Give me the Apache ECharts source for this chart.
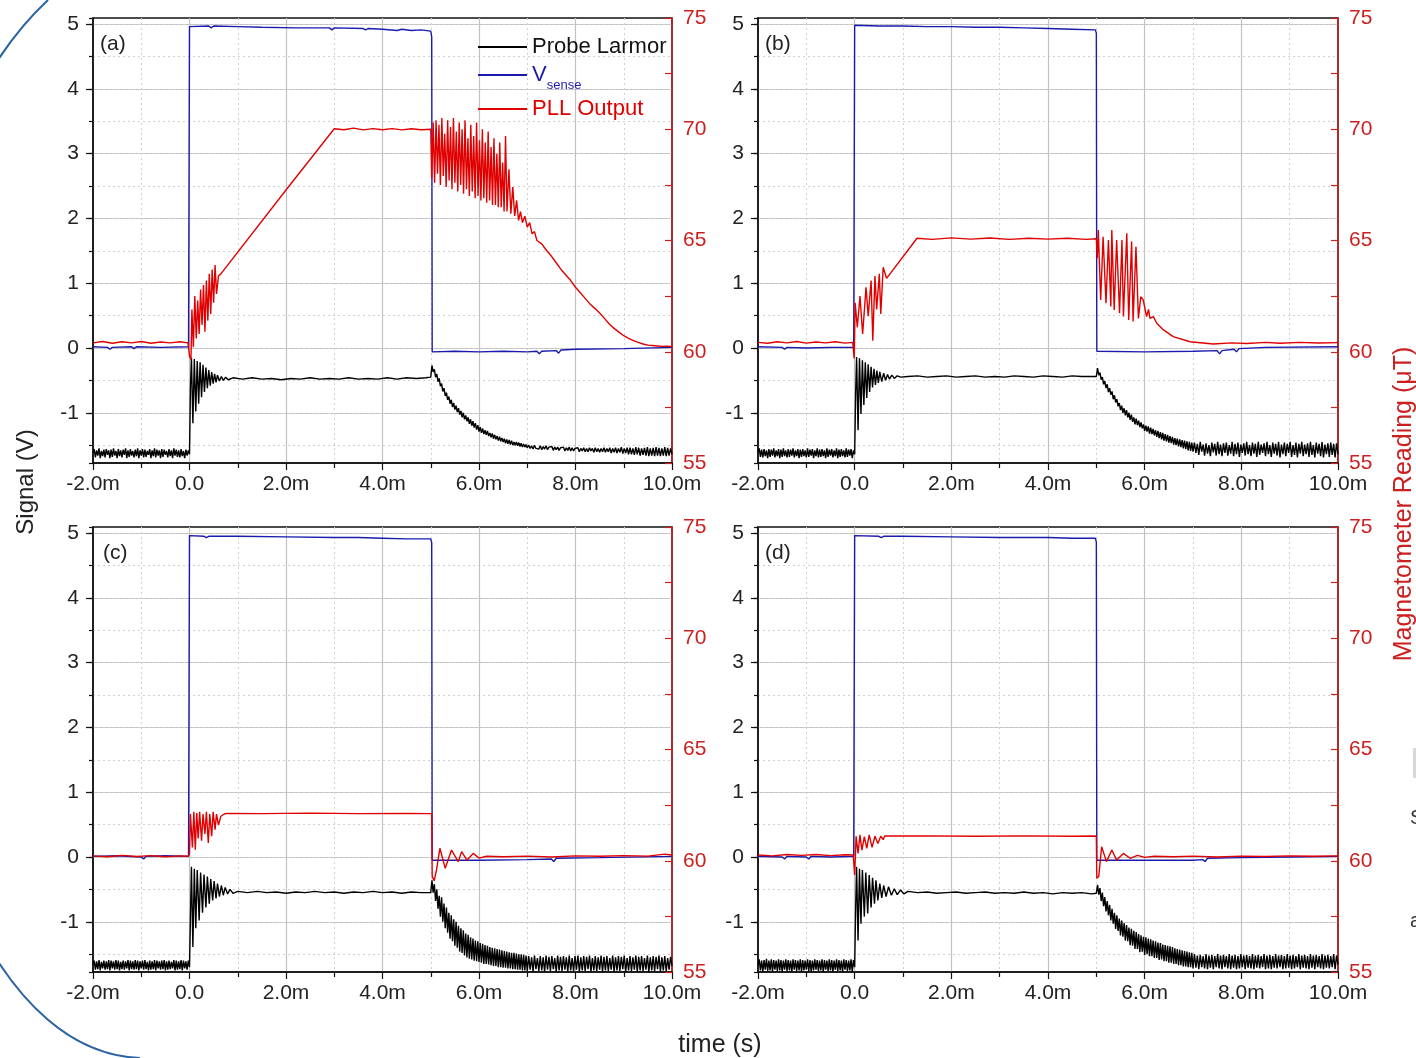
<!DOCTYPE html>
<html><head><meta charset="utf-8">
<script src="https://cdn.jsdelivr.net/npm/echarts/dist/echarts.min.js"></script>
<style>html,body{margin:0;padding:0;background:#fff}#c{width:1416px;height:1058px}</style>
</head><body><div id="c"></div>
<script>
// ---------------- DATA (time in ms) ----------------
const panelLabels = ['(a)', '(b)', '(c)', '(d)'];
const seriesNames = ['Probe Larmor', 'Vsense', 'PLL Output'];
// uniformly sampled scope segments: start time, sample step, read values
function sampled(t0, dt, vals) { return vals.map((v, k) => [+(t0 + k * dt).toFixed(4), v]); }

// ----- Panel (a) -----
const aPre = [-1.62,-1.56,-1.69,-1.58,-1.66,-1.55,-1.70,-1.59,-1.67,-1.57,-1.69,-1.56,-1.65,-1.58,-1.70,-1.57,-1.68,-1.55,-1.66,-1.59,-1.70,-1.56,-1.67,-1.58,-1.69,-1.57,-1.65,-1.55,-1.70,-1.58,-1.68,-1.56,-1.66,-1.59,-1.69,-1.57,-1.67,-1.55,-1.70,-1.58,-1.66,-1.56,-1.69,-1.57,-1.68,-1.59,-1.65,-1.56,-1.70,-1.58,-1.67,-1.55,-1.69,-1.57,-1.66,-1.58,-1.70,-1.56,-1.68,-1.57,-1.65,-1.59,-1.69,-1.56,-1.67,-1.58,-1.70,-1.55,-1.66,-1.57,-1.68,-1.58,-1.69,-1.56,-1.67,-1.59,-1.70,-1.57,-1.66,-1.58,-1.64];
const aRing = [[0.02,-0.60],[0.04,-0.15],[0.07,-1.16],[0.10,-0.17],[0.13,-0.98],[0.16,-0.20],[0.19,-0.86],[0.22,-0.22],[0.25,-0.76],[0.28,-0.26],[0.31,-0.68],[0.34,-0.30],[0.37,-0.62],[0.40,-0.34],[0.43,-0.58],[0.46,-0.37],[0.49,-0.55],[0.52,-0.40],[0.55,-0.53],[0.58,-0.42],[0.62,-0.51],[0.66,-0.44],[0.70,-0.50],[0.75,-0.45],[0.80,-0.49],
[0.90,-0.46],[1.10,-0.48],[1.30,-0.46],[1.50,-0.48],[1.70,-0.47],[1.90,-0.49],[2.10,-0.47],[2.30,-0.48],[2.50,-0.46],[2.70,-0.48],[2.90,-0.47],[3.10,-0.48],[3.30,-0.46],[3.50,-0.48],[3.70,-0.47],[3.90,-0.48],[4.10,-0.46],[4.30,-0.48],[4.50,-0.46],[4.70,-0.47],[4.90,-0.46],[5.00,-0.45]];
const aDecay = [-0.27,-0.37,-0.33,-0.45,-0.40,-0.52,-0.47,-0.59,-0.55,-0.67,-0.62,-0.74,-0.69,-0.80,-0.75,-0.86,-0.80,-0.91,-0.85,-0.95,-0.89,-0.99,-0.93,-1.03,-0.97,-1.07,-1.00,-1.10,-1.04,-1.13,-1.07,-1.17,-1.10,-1.20,-1.13,-1.23,-1.16,-1.26,-1.19,-1.29,-1.22,-1.31,-1.24,-1.33,-1.27,-1.34,-1.28,-1.36,-1.31,-1.38,-1.32,-1.40,-1.34,-1.41,-1.36,-1.43,-1.37,-1.44,-1.39,-1.45,-1.40,-1.47,-1.41,-1.48,-1.42,-1.49,-1.43,-1.50,-1.45,-1.50,-1.45,-1.51,-1.46,-1.52,-1.47,-1.53,-1.48,-1.53,-1.49,-1.54];
const aTail = [-1.50,-1.55,-1.51,-1.56,-1.50,-1.55,-1.52,-1.56,-1.51,-1.57,-1.52,-1.56,-1.51,-1.57,-1.53,-1.56,-1.52,-1.58,-1.53,-1.57,-1.53,-1.58,-1.54,-1.57,-1.53,-1.59,-1.54,-1.58,-1.53,-1.59,-1.54,-1.59,-1.55,-1.58,-1.54,-1.60,-1.55,-1.59,-1.54,-1.60,-1.55,-1.60,-1.54,-1.59,-1.55,-1.61,-1.54,-1.60,-1.55,-1.61,-1.55,-1.60,-1.54,-1.61,-1.55,-1.60,-1.54,-1.62,-1.55,-1.61,-1.54,-1.62,-1.55,-1.61,-1.53,-1.63,-1.55,-1.62,-1.54,-1.64,-1.54,-1.64,-1.55,-1.65,-1.53,-1.64,-1.54,-1.66,-1.55,-1.65,-1.54,-1.66,-1.53,-1.67,-1.55,-1.66,-1.54,-1.67,-1.53,-1.66,-1.54,-1.67,-1.55,-1.66,-1.53,-1.67,-1.54,-1.66,-1.55,-1.64];
const aBlue = [[-2.00,0.02],[-1.70,0.01],[-1.65,-0.02],[-1.60,0.01],[-1.20,0.02],[-1.15,-0.01],[-1.10,0.02],[-0.60,0.01],[-0.02,0.02],[0.00,4.96],[0.40,4.97],[0.45,4.94],[0.50,4.97],[1.00,4.96],[1.50,4.95],[2.20,4.94],[2.90,4.94],[2.95,4.91],[3.00,4.94],[3.60,4.93],[3.65,4.91],[3.70,4.93],[4.00,4.92],[4.30,4.90],[4.40,4.92],[4.60,4.90],[4.80,4.91],[5.00,4.89],[5.02,4.80],[5.03,-0.06],[5.50,-0.05],[6.00,-0.06],[6.50,-0.05],[7.00,-0.06],[7.20,-0.05],[7.25,-0.09],[7.30,-0.05],[7.60,-0.04],[7.65,-0.08],[7.70,-0.03],[8.00,-0.02],[9.00,-0.01],[10.00,0.01]];
const aRed = [
[-2.00,60.40],[-1.80,60.46],[-1.60,60.38],[-1.40,60.45],[-1.20,60.40],[-1.00,60.46],[-0.80,60.38],[-0.60,60.44],[-0.40,60.40],[-0.20,60.45],[-0.03,60.40],
[0.00,59.80],[0.03,59.65],[0.05,61.9],[0.08,60.2],[0.11,62.5],[0.14,60.6],[0.17,62.3],[0.20,60.8],[0.23,62.8],[0.26,61.2],[0.29,63.0],[0.32,60.9],[0.35,63.2],[0.38,61.4],[0.41,63.5],[0.44,61.7],[0.47,63.7],[0.50,62.2],[0.53,63.9],[0.56,62.6],[0.60,63.4],[0.65,63.5],
[2.00,67.27],[3.00,70.02],
[3.20,69.98],[3.40,70.05],[3.60,69.97],[3.80,70.03],[4.00,69.98],[4.20,70.03],[4.40,69.97],[4.60,70.02],[4.80,69.98],[5.00,70.00],
[5.02,67.8],[5.05,70.3],[5.08,67.6],[5.11,70.4],[5.14,68.0],[5.17,70.2],[5.20,67.5],[5.23,70.5],[5.26,67.9],[5.29,69.8],[5.32,67.4],[5.35,70.4],[5.38,67.7],[5.41,70.1],[5.44,67.3],[5.47,70.5],[5.50,67.6],[5.53,69.9],[5.56,67.2],[5.59,70.3],[5.62,67.5],[5.65,70.0],[5.68,67.1],[5.71,70.4],[5.74,67.3],[5.77,69.6],[5.80,67.0],[5.83,70.2],[5.86,67.2],[5.89,69.7],[5.92,66.9],[5.95,70.3],[5.98,67.0],[6.01,69.5],[6.04,66.8],[6.07,70.0],[6.10,66.9],[6.13,69.4],[6.16,66.7],[6.19,69.9],[6.22,66.8],[6.25,69.2],[6.28,66.6],[6.31,69.6],[6.34,66.6],[6.37,68.9],[6.40,66.5],[6.43,69.4],[6.46,66.5],[6.49,68.5],[6.52,66.3],[6.55,69.7],[6.58,66.3],[6.62,68.2],[6.66,66.2],[6.70,67.4],[6.74,66.1],[6.78,66.8],[6.82,65.9],
[6.86,66.3],[6.90,65.8],[6.95,66.1],[7.00,65.6],[7.05,65.8],[7.10,65.3],[7.15,65.4],[7.20,65.0],[7.30,64.85],[7.40,64.55],[7.50,64.3],[7.60,64.0],[7.70,63.7],[7.80,63.45],[7.90,63.2],[8.00,62.9],[8.10,62.65],[8.20,62.4],[8.30,62.15],[8.40,61.95],[8.50,61.74],[8.60,61.5],[8.70,61.25],[8.80,61.05],[8.90,60.88],[9.00,60.72],[9.10,60.6],[9.20,60.5],[9.30,60.42],[9.40,60.35],[9.50,60.3],[9.60,60.28],[9.70,60.26],[9.80,60.24],[9.90,60.25],[10.00,60.23]];

// ----- Panel (b) -----
const bPre = [-1.60,-1.55,-1.68,-1.57,-1.69,-1.56,-1.67,-1.58,-1.70,-1.56,-1.68,-1.57,-1.66,-1.55,-1.69,-1.58,-1.67,-1.56,-1.70,-1.57,-1.68,-1.55,-1.67,-1.58,-1.69,-1.56,-1.68,-1.57,-1.66,-1.55,-1.69,-1.58,-1.67,-1.56,-1.70,-1.57,-1.68,-1.56,-1.67,-1.58,-1.69,-1.55,-1.68,-1.57,-1.66,-1.56,-1.70,-1.58,-1.67,-1.55,-1.69,-1.57,-1.68,-1.56,-1.67,-1.58,-1.70,-1.55,-1.68,-1.57,-1.66,-1.56,-1.69,-1.58,-1.67,-1.55,-1.70,-1.57,-1.68,-1.56,-1.67,-1.58,-1.69,-1.55,-1.68,-1.57,-1.66,-1.56,-1.70,-1.58,-1.64];
const bRing = [[0.02,-0.70],[0.04,-0.14],[0.07,-1.27],[0.10,-0.16],[0.13,-1.02],[0.16,-0.19],[0.19,-0.88],[0.22,-0.22],[0.25,-0.77],[0.28,-0.25],[0.31,-0.68],[0.34,-0.29],[0.37,-0.61],[0.40,-0.32],[0.43,-0.57],[0.46,-0.35],[0.49,-0.54],[0.52,-0.37],[0.56,-0.52],[0.60,-0.39],[0.64,-0.50],[0.68,-0.41],[0.72,-0.48],[0.77,-0.42],[0.82,-0.47],[0.88,-0.43],[0.95,-0.45],
[1.10,-0.44],[1.30,-0.43],[1.50,-0.45],[1.70,-0.44],[1.90,-0.43],[2.10,-0.45],[2.30,-0.44],[2.50,-0.43],[2.70,-0.45],[2.90,-0.44],[3.10,-0.45],[3.30,-0.43],[3.50,-0.44],[3.70,-0.45],[3.90,-0.43],[4.10,-0.44],[4.30,-0.45],[4.50,-0.43],[4.70,-0.44],[4.90,-0.44],[5.00,-0.44]];
const bDecay = [-0.31,-0.42,-0.38,-0.49,-0.45,-0.56,-0.51,-0.62,-0.56,-0.68,-0.62,-0.72,-0.67,-0.79,-0.73,-0.84,-0.79,-0.90,-0.85,-0.96,-0.89,-1.00,-0.93,-1.04,-0.96,-1.07,-1.00,-1.11,-1.03,-1.14,-1.07,-1.18,-1.09,-1.19,-1.12,-1.22,-1.15,-1.24,-1.18,-1.28,-1.20,-1.29,-1.21,-1.32,-1.23,-1.33,-1.25,-1.35,-1.27,-1.37,-1.28,-1.39,-1.30,-1.41,-1.31,-1.43,-1.33,-1.44,-1.34,-1.46,-1.36,-1.47,-1.37,-1.49,-1.39,-1.50,-1.40,-1.52,-1.41,-1.53,-1.42,-1.55,-1.43,-1.56,-1.44,-1.58,-1.45,-1.59,-1.46,-1.60];
const bTail = [-1.46,-1.62,-1.48,-1.65,-1.45,-1.60,-1.49,-1.66,-1.47,-1.63,-1.50,-1.67,-1.46,-1.61,-1.48,-1.66,-1.45,-1.64,-1.49,-1.67,-1.47,-1.62,-1.46,-1.66,-1.50,-1.63,-1.45,-1.67,-1.48,-1.64,-1.46,-1.68,-1.49,-1.62,-1.47,-1.66,-1.45,-1.64,-1.50,-1.67,-1.46,-1.63,-1.48,-1.68,-1.45,-1.65,-1.49,-1.62,-1.47,-1.67,-1.45,-1.64,-1.50,-1.68,-1.46,-1.63,-1.48,-1.66,-1.45,-1.69,-1.49,-1.64,-1.46,-1.67,-1.48,-1.62,-1.45,-1.68,-1.50,-1.65,-1.46,-1.69,-1.48,-1.63,-1.45,-1.67,-1.49,-1.64,-1.47,-1.68,-1.45,-1.65,-1.50,-1.69,-1.46,-1.63,-1.48,-1.67,-1.45,-1.69,-1.49,-1.64,-1.47,-1.68,-1.46,-1.65,-1.48,-1.69,-1.47,-1.64];
const bBlue = [[-2.00,0.02],[-1.50,0.01],[-1.45,-0.02],[-1.40,0.01],[-1.00,0.00],[-0.50,0.01],[-0.02,0.01],[0.00,4.98],[0.50,4.97],[1.00,4.97],[1.50,4.96],[2.00,4.96],[2.50,4.95],[3.00,4.95],[3.50,4.94],[4.00,4.93],[4.50,4.92],[4.98,4.91],[5.00,4.86],[5.01,-0.05],[6.00,-0.06],[7.00,-0.05],[7.50,-0.04],[7.55,-0.09],[7.60,-0.04],[7.85,-0.02],[7.90,-0.06],[7.95,-0.01],[8.50,0.01],[10.00,0.02]];
const bRed = [
[-2.00,60.42],[-1.80,60.38],[-1.60,60.45],[-1.40,60.40],[-1.20,60.46],[-1.00,60.39],[-0.80,60.44],[-0.60,60.40],[-0.40,60.45],[-0.20,60.39],[-0.04,60.42],
[-0.01,59.70],[0.01,62.2],[0.055,61.1],[0.11,62.5],[0.165,60.8],[0.235,62.9],[0.28,61.6],[0.34,63.2],[0.375,60.5],[0.42,63.4],[0.455,61.9],[0.51,63.5],[0.54,61.7],[0.59,63.8],[0.66,63.3],
[1.29,65.10],[1.60,65.05],[2.00,65.12],[2.40,65.06],[2.80,65.11],[3.20,65.05],[3.60,65.10],[4.00,65.06],[4.40,65.10],[4.80,65.05],[5.00,65.08],
[5.02,64.2],[5.04,65.47],[5.09,62.33],[5.14,65.17],[5.20,62.18],[5.25,65.02],[5.30,62.03],[5.32,65.47],[5.37,61.88],[5.42,65.02],[5.48,61.73],[5.53,65.02],[5.56,61.58],[5.63,65.32],[5.67,61.43],[5.73,64.95],[5.76,61.36],[5.82,64.72],[5.87,61.50],[5.92,62.47],[5.97,62.33],[6.04,61.58],[6.08,61.90],[6.11,61.50],[6.18,61.58],[6.25,61.28],[6.39,60.98],[6.59,60.68],[6.94,60.45],[7.42,60.35],[7.80,60.40],[8.11,60.37],[8.50,60.42],[8.80,60.38],[9.20,60.42],[9.60,60.39],[10.00,60.41]];

// ----- Panel (c) -----
const cPre = [-1.66,-1.60,-1.74,-1.61,-1.73,-1.59,-1.75,-1.62,-1.72,-1.60,-1.74,-1.61,-1.73,-1.59,-1.75,-1.60,-1.72,-1.61,-1.74,-1.59,-1.73,-1.60,-1.75,-1.62,-1.73,-1.60,-1.74,-1.61,-1.72,-1.59,-1.75,-1.60,-1.73,-1.61,-1.74,-1.59,-1.73,-1.60,-1.75,-1.61,-1.72,-1.60,-1.74,-1.59,-1.73,-1.62,-1.75,-1.60,-1.74,-1.61,-1.73,-1.59,-1.75,-1.60,-1.72,-1.61,-1.74,-1.60,-1.73,-1.59,-1.75,-1.61,-1.74,-1.60,-1.73,-1.62,-1.72,-1.59,-1.75,-1.60,-1.74,-1.61,-1.73,-1.59,-1.75,-1.60,-1.72,-1.61,-1.74,-1.60,-1.70];
const cRing = [[0.02,-0.90],[0.04,-0.15],[0.07,-1.39],[0.10,-0.18],[0.13,-1.10],[0.16,-0.20],[0.20,-0.98],[0.23,-0.24],[0.27,-0.86],[0.30,-0.27],[0.34,-0.78],[0.37,-0.30],[0.41,-0.72],[0.44,-0.34],[0.48,-0.67],[0.51,-0.37],[0.55,-0.64],[0.58,-0.41],[0.62,-0.61],[0.66,-0.44],[0.70,-0.59],[0.74,-0.47],[0.79,-0.57],[0.84,-0.50],[0.90,-0.56],
[1.00,-0.53],[1.20,-0.55],[1.40,-0.53],[1.60,-0.55],[1.80,-0.54],[2.00,-0.56],[2.20,-0.54],[2.40,-0.55],[2.60,-0.53],[2.80,-0.55],[3.00,-0.54],[3.20,-0.56],[3.40,-0.54],[3.60,-0.55],[3.80,-0.53],[4.00,-0.55],[4.20,-0.54],[4.40,-0.56],[4.60,-0.54],[4.80,-0.55],[5.00,-0.55]];
const cDecay = [-0.36,-0.55,-0.42,-0.68,-0.50,-0.80,-0.60,-0.92,-0.62,-1.00,-0.72,-1.10,-0.78,-1.17,-0.86,-1.26,-0.90,-1.30,-0.96,-1.37,-1.00,-1.40,-1.06,-1.46,-1.10,-1.48,-1.13,-1.52,-1.18,-1.55,-1.20,-1.57,-1.24,-1.58,-1.26,-1.60,-1.29,-1.61,-1.30,-1.62,-1.33,-1.63,-1.34,-1.65,-1.36,-1.65,-1.37,-1.66,-1.39,-1.67,-1.40,-1.68,-1.41,-1.68,-1.42,-1.70,-1.43,-1.70,-1.44,-1.71,-1.45,-1.71,-1.46,-1.72,-1.47,-1.72,-1.48,-1.73,-1.48,-1.73,-1.49,-1.74,-1.50,-1.74,-1.50,-1.75,-1.51,-1.75,-1.52,-1.76];
const cTail = [-1.53,-1.74,-1.55,-1.77,-1.52,-1.73,-1.56,-1.76,-1.53,-1.75,-1.55,-1.77,-1.52,-1.74,-1.54,-1.76,-1.53,-1.73,-1.56,-1.77,-1.52,-1.75,-1.54,-1.76,-1.53,-1.74,-1.55,-1.77,-1.52,-1.75,-1.56,-1.76,-1.53,-1.74,-1.52,-1.77,-1.55,-1.75,-1.53,-1.76,-1.54,-1.73,-1.52,-1.77,-1.56,-1.75,-1.53,-1.76,-1.55,-1.74,-1.52,-1.77,-1.54,-1.75,-1.53,-1.76,-1.56,-1.74,-1.52,-1.77,-1.55,-1.75,-1.53,-1.76,-1.54,-1.73,-1.52,-1.77,-1.56,-1.75,-1.53,-1.76,-1.55,-1.74,-1.52,-1.77,-1.54,-1.75,-1.53,-1.76,-1.56,-1.74,-1.52,-1.77,-1.55,-1.75,-1.53,-1.76,-1.54,-1.73,-1.52,-1.77,-1.55,-1.75,-1.53,-1.76,-1.56,-1.74,-1.54,-1.68];
const cBlue = [[-2.00,0.01],[-1.50,0.02],[-1.00,0.00],[-0.95,-0.03],[-0.90,0.01],[-0.50,0.02],[-0.02,0.01],[0.00,4.96],[0.30,4.95],[0.35,4.93],[0.40,4.95],[1.00,4.95],[2.00,4.94],[3.00,4.93],[3.50,4.93],[4.00,4.92],[4.50,4.91],[5.00,4.91],[5.02,4.85],[5.03,-0.05],[6.00,-0.05],[7.00,-0.04],[7.50,-0.03],[7.55,-0.07],[7.60,-0.02],[8.50,-0.01],[10.00,0.01]];
const cRed = [
[-2.00,60.22],[-1.70,60.18],[-1.40,60.24],[-1.10,60.19],[-0.80,60.23],[-0.50,60.18],[-0.20,60.22],[-0.03,60.20],
[0.00,60.30],[0.02,62.10],[0.06,60.60],[0.09,62.20],[0.12,60.50],[0.15,62.15],[0.18,61.00],[0.21,62.20],[0.25,60.90],[0.28,62.10],[0.32,61.20],[0.35,62.20],[0.39,60.80],[0.42,62.10],[0.46,61.10],[0.49,62.20],[0.53,61.40],[0.56,62.10],[0.60,61.60],[0.65,62.00],[0.72,62.10],[0.78,62.13],
[1.50,62.12],[2.50,62.14],[3.50,62.12],[4.50,62.13],[5.02,62.12],
[5.03,59.30],[5.07,59.10],[5.12,59.60],[5.19,60.56],[5.30,59.66],[5.43,60.48],[5.57,59.96],[5.64,60.41],[5.75,60.03],[5.88,60.33],[6.00,60.12],[6.16,60.20],[6.50,60.18],[7.00,60.21],[7.50,60.17],[8.00,60.22],[8.50,60.20],[9.00,60.23],[9.50,60.21],[9.85,60.30],[10.00,60.26]];

// ----- Panel (d) -----
const dPre = [-1.67,-1.58,-1.75,-1.60,-1.77,-1.59,-1.74,-1.57,-1.76,-1.60,-1.75,-1.58,-1.77,-1.59,-1.74,-1.60,-1.76,-1.58,-1.75,-1.59,-1.77,-1.60,-1.74,-1.58,-1.76,-1.59,-1.75,-1.60,-1.77,-1.58,-1.74,-1.59,-1.76,-1.60,-1.75,-1.58,-1.77,-1.59,-1.75,-1.60,-1.74,-1.58,-1.76,-1.59,-1.77,-1.60,-1.75,-1.58,-1.74,-1.59,-1.76,-1.60,-1.75,-1.58,-1.77,-1.59,-1.74,-1.60,-1.76,-1.58,-1.75,-1.59,-1.77,-1.60,-1.74,-1.58,-1.76,-1.59,-1.75,-1.60,-1.77,-1.58,-1.74,-1.59,-1.76,-1.60,-1.75,-1.58,-1.77,-1.59,-1.70];
const dRing = [[0.02,-0.80],[0.04,-0.15],[0.07,-1.29],[0.10,-0.18],[0.13,-1.03],[0.16,-0.20],[0.20,-0.92],[0.23,-0.24],[0.27,-0.87],[0.30,-0.28],[0.34,-0.78],[0.37,-0.32],[0.41,-0.72],[0.44,-0.36],[0.48,-0.67],[0.52,-0.41],[0.56,-0.63],[0.60,-0.44],[0.65,-0.61],[0.70,-0.46],[0.76,-0.59],[0.82,-0.49],[0.88,-0.58],[0.95,-0.51],[1.02,-0.57],[1.10,-0.53],
[1.30,-0.55],[1.50,-0.54],[1.70,-0.56],[1.90,-0.55],[2.10,-0.54],[2.30,-0.56],[2.50,-0.55],[2.70,-0.54],[2.90,-0.56],[3.10,-0.55],[3.30,-0.56],[3.50,-0.54],[3.70,-0.56],[3.90,-0.55],[4.10,-0.57],[4.30,-0.55],[4.50,-0.56],[4.70,-0.55],[4.90,-0.57],[5.00,-0.56]];
const dDecay = [-0.43,-0.58,-0.48,-0.68,-0.55,-0.76,-0.62,-0.84,-0.68,-0.90,-0.74,-0.98,-0.80,-1.03,-0.86,-1.11,-0.90,-1.14,-0.95,-1.21,-0.98,-1.23,-1.02,-1.29,-1.05,-1.30,-1.09,-1.36,-1.11,-1.37,-1.14,-1.42,-1.16,-1.42,-1.19,-1.47,-1.21,-1.46,-1.23,-1.51,-1.24,-1.50,-1.26,-1.53,-1.27,-1.53,-1.29,-1.56,-1.30,-1.56,-1.32,-1.59,-1.33,-1.58,-1.35,-1.61,-1.36,-1.61,-1.37,-1.63,-1.38,-1.63,-1.39,-1.65,-1.41,-1.65,-1.42,-1.67,-1.43,-1.67,-1.44,-1.69,-1.45,-1.69,-1.46,-1.70,-1.47,-1.70,-1.48,-1.72];
const dTail = [-1.50,-1.71,-1.52,-1.73,-1.51,-1.70,-1.53,-1.72,-1.50,-1.73,-1.52,-1.71,-1.51,-1.73,-1.53,-1.70,-1.50,-1.72,-1.52,-1.73,-1.51,-1.70,-1.53,-1.72,-1.50,-1.73,-1.52,-1.71,-1.51,-1.73,-1.53,-1.72,-1.50,-1.70,-1.52,-1.73,-1.51,-1.71,-1.53,-1.72,-1.50,-1.73,-1.52,-1.71,-1.51,-1.72,-1.53,-1.70,-1.50,-1.73,-1.52,-1.72,-1.51,-1.73,-1.53,-1.71,-1.50,-1.72,-1.52,-1.70,-1.51,-1.73,-1.53,-1.72,-1.50,-1.71,-1.52,-1.73,-1.51,-1.72,-1.53,-1.70,-1.50,-1.73,-1.52,-1.71,-1.51,-1.72,-1.53,-1.73,-1.50,-1.71,-1.52,-1.73,-1.51,-1.70,-1.53,-1.72,-1.50,-1.73,-1.52,-1.71,-1.51,-1.72,-1.53,-1.70,-1.50,-1.73,-1.52,-1.66];
const dBlue = [[-2.00,0.01],[-1.50,0.00],[-1.45,-0.03],[-1.40,0.01],[-1.00,0.00],[-0.95,-0.03],[-0.90,0.01],[-0.50,0.00],[-0.02,0.01],[0.00,4.96],[0.50,4.95],[0.55,4.93],[0.60,4.95],[1.00,4.95],[2.00,4.94],[3.00,4.93],[4.00,4.93],[4.50,4.92],[4.98,4.92],[5.00,4.86],[5.01,-0.05],[6.00,-0.05],[7.00,-0.05],[7.20,-0.04],[7.25,-0.07],[7.30,-0.02],[8.00,-0.01],[9.00,0.00],[10.00,0.01]];
const dRed = [
[-2.00,60.26],[-1.70,60.22],[-1.40,60.28],[-1.10,60.24],[-0.80,60.28],[-0.50,60.23],[-0.20,60.27],[-0.03,60.26],
[0.00,59.36],[0.03,61.10],[0.07,60.33],[0.11,61.16],[0.15,60.48],[0.20,61.08],[0.25,60.56],[0.30,61.16],[0.36,60.60],[0.42,61.10],[0.48,60.78],[0.54,61.10],[0.59,60.95],[0.62,61.11],
[1.50,61.12],[2.50,61.10],[3.50,61.12],[4.50,61.10],[5.00,61.11],
[5.01,59.21],[5.05,59.30],[5.11,60.63],[5.21,59.96],[5.32,60.48],[5.42,60.03],[5.56,60.33],[5.70,60.11],[5.85,60.24],[6.00,60.15],[6.20,60.20],[6.60,60.18],[7.00,60.21],[7.50,60.17],[8.00,60.21],[8.50,60.19],[9.00,60.22],[9.50,60.20],[10.00,60.22]];

function blackTrace(pre, ring, decay, tail) {
  return [].concat(sampled(-2.0, 0.025, pre), ring, sampled(5.025, 0.025, decay), sampled(7.03, 0.03, tail));
}
const blackData = [
  blackTrace(aPre, aRing, aDecay, aTail),
  blackTrace(bPre, bRing, bDecay, bTail),
  blackTrace(cPre, cRing, cDecay, cTail),
  blackTrace(dPre, dRing, dDecay, dTail)
];
const blueData = [aBlue, bBlue, cBlue, dBlue];
const redData = [aRed, bRed, cRed, dRed];

// ---------------- CHART ----------------
const FONT = '"Liberation Sans", Arial, Helvetica, sans-serif';
const BLACK = '#000000', BLUE = '#1a1aae', RED = '#e00000', AXRED = '#cc1f1f';
const gridBoxes = [
  {left: 93, top: 18, width: 579, height: 445},
  {left: 758, top: 18, width: 580, height: 445},
  {left: 93, top: 527, width: 579, height: 445},
  {left: 758, top: 527, width: 580, height: 445}
];
const labelPos = [[100, 34], [765, 34], [103, 543], [765, 543]];

const grid = [], xAxis = [], yAxis = [], series = [];
gridBoxes.forEach((g, i) => {
  grid.push(Object.assign({show: true, borderColor: '#111', borderWidth: 1.5, backgroundColor: 'transparent'}, g));
  xAxis.push({
    type: 'value', gridIndex: i, min: -2, max: 10, interval: 2,
    axisLine: {onZero: false, lineStyle: {color: '#111', width: 1.5}},
    axisTick: {length: 7, lineStyle: {color: '#111', width: 1.2}},
    minorTick: {show: true, splitNumber: 2, length: 5, lineStyle: {color: '#111', width: 1.2}},
    splitLine: {show: true, showMinLine: false, showMaxLine: false, lineStyle: {color: '#c2c2c2', width: 1.2}},
    minorSplitLine: {show: true, lineStyle: {color: '#d0d0d0', width: 1, type: [2, 3]}},
    axisLabel: {fontFamily: FONT, fontSize: 21, color: '#222', margin: 11,
      formatter: v => (Math.abs(v) < 1e-9 ? '0.0' : v.toFixed(1) + 'm')}
  });
  yAxis.push({
    type: 'value', gridIndex: i, position: 'left', min: -1.775, max: 5.093, splitNumber: 7,
    axisLine: {show: true, onZero: false, lineStyle: {color: '#111', width: 1.5}},
    axisTick: {show: true, length: 7, lineStyle: {color: '#111', width: 1.2}},
    splitLine: {show: true, showMinLine: false, showMaxLine: false, lineStyle: {color: '#c2c2c2', width: 1.2}},
    axisLabel: {fontFamily: FONT, fontSize: 21, color: '#222', margin: 14, showMinLabel: false, showMaxLabel: false,
      formatter: v => (Math.abs(v - Math.round(v)) < 1e-6 ? String(Math.round(v)) : '')}
  });
  yAxis.push({
    type: 'value', gridIndex: i, position: 'left', min: -1.775, max: 5.093, splitNumber: 14,
    axisLine: {show: false, onZero: false},
    axisTick: {show: true, length: 4, lineStyle: {color: '#111', width: 1.2}},
    axisLabel: {show: false},
    splitLine: {show: true, showMinLine: false, showMaxLine: false, lineStyle: {color: '#d0d0d0', width: 1, type: [2, 3]}}
  });
  yAxis.push({
    type: 'value', gridIndex: i, position: 'right', min: 55, max: 75, interval: 5,
    axisLine: {show: true, onZero: false, lineStyle: {color: AXRED, width: 1.5}},
    axisTick: {show: true, inside: true, length: 7, lineStyle: {color: AXRED, width: 1.2}},
    minorTick: {show: true, splitNumber: 2, length: 7, lineStyle: {color: AXRED, width: 1.2}},
    splitLine: {show: false},
    axisLabel: {fontFamily: FONT, fontSize: 21, color: AXRED, margin: 11}
  });
  const mk = (name, data, color, yi, z, w) => ({
    type: 'line', name, data, xAxisIndex: i, yAxisIndex: yi, color,
    showSymbol: false, symbol: 'none', silent: true, animation: false, z,
    lineStyle: {color, width: w}, itemStyle: {color}
  });
  series.push(mk(seriesNames[0], blackData[i], BLACK, 3 * i, 2, 1.4));
  series.push(mk(seriesNames[1], blueData[i], BLUE, 3 * i, 3, 1.4));
  series.push(mk(seriesNames[2], redData[i], RED, 3 * i + 2, 4, 1.4));
});

const graphic = [
  {type: 'bezierCurve', silent: true,
   shape: {x1: 48, y1: 0, x2: 140, y2: 1058, cpx1: -204, cpy1: 234, cpx2: -133, cpy2: 1048},
   style: {fill: 'none', stroke: '#2a62a2', lineWidth: 2}},
  {type: 'text', x: 26, y: 482, rotation: Math.PI / 2, silent: true,
   style: {text: 'Signal (V)', fontFamily: FONT, fontSize: 24, fill: '#222', align: 'center', verticalAlign: 'middle'}},
  {type: 'text', x: 1404, y: 504, rotation: Math.PI / 2, silent: true,
   style: {text: 'Magnetometer Reading (μT)', fontFamily: FONT, fontSize: 25, fill: AXRED, align: 'center', verticalAlign: 'middle'}},
  {type: 'text', x: 720, y: 1045, silent: true,
   style: {text: 'time (s)', fontFamily: FONT, fontSize: 25, fill: '#222', align: 'center', verticalAlign: 'middle'}},
  {type: 'rect', silent: true, shape: {x: 1413, y: 748, width: 3, height: 30}, style: {fill: '#d8d8d8'}},
  {type: 'text', x: 1410, y: 818, silent: true, style: {text: 'S', fontFamily: FONT, fontSize: 20, fill: '#333', align: 'left', verticalAlign: 'middle'}},
  {type: 'text', x: 1410, y: 921, silent: true, style: {text: 'a', fontFamily: FONT, fontSize: 20, fill: '#333', align: 'left', verticalAlign: 'middle'}}
];
panelLabels.forEach((t, i) => {
  graphic.push({type: 'text', x: labelPos[i][0], y: labelPos[i][1], silent: true,
    style: {text: t, fontFamily: FONT, fontSize: 21, fill: '#222', align: 'left', verticalAlign: 'top'}});
});

const option = {
  backgroundColor: '#ffffff',
  animation: false,
  textStyle: {fontFamily: FONT},
  grid, xAxis, yAxis, series, graphic,
  legend: {
    orient: 'vertical', left: 478, top: 36, padding: 0, itemGap: 6,
    itemWidth: 49, itemHeight: 2, icon: 'rect', selectedMode: false,
    textStyle: {fontFamily: FONT, fontSize: 22, color: '#111',
      rich: {v: {fontFamily: FONT, fontSize: 22, color: BLUE, lineHeight: 34},
             s: {fontFamily: FONT, fontSize: 13, color: BLUE, verticalAlign: 'bottom'}}},
    formatter: name => (name === 'Vsense' ? '{v|V}{s|sense}' : name),
    data: [
      {name: 'Probe Larmor', textStyle: {color: '#111'}},
      {name: 'Vsense', textStyle: {color: BLUE}},
      {name: 'PLL Output', textStyle: {color: RED}}
    ]
  }
};
const chart = echarts.init(document.getElementById('c'), null, {renderer: 'canvas', width: 1416, height: 1058});
chart.setOption(option);
</script></body></html>
